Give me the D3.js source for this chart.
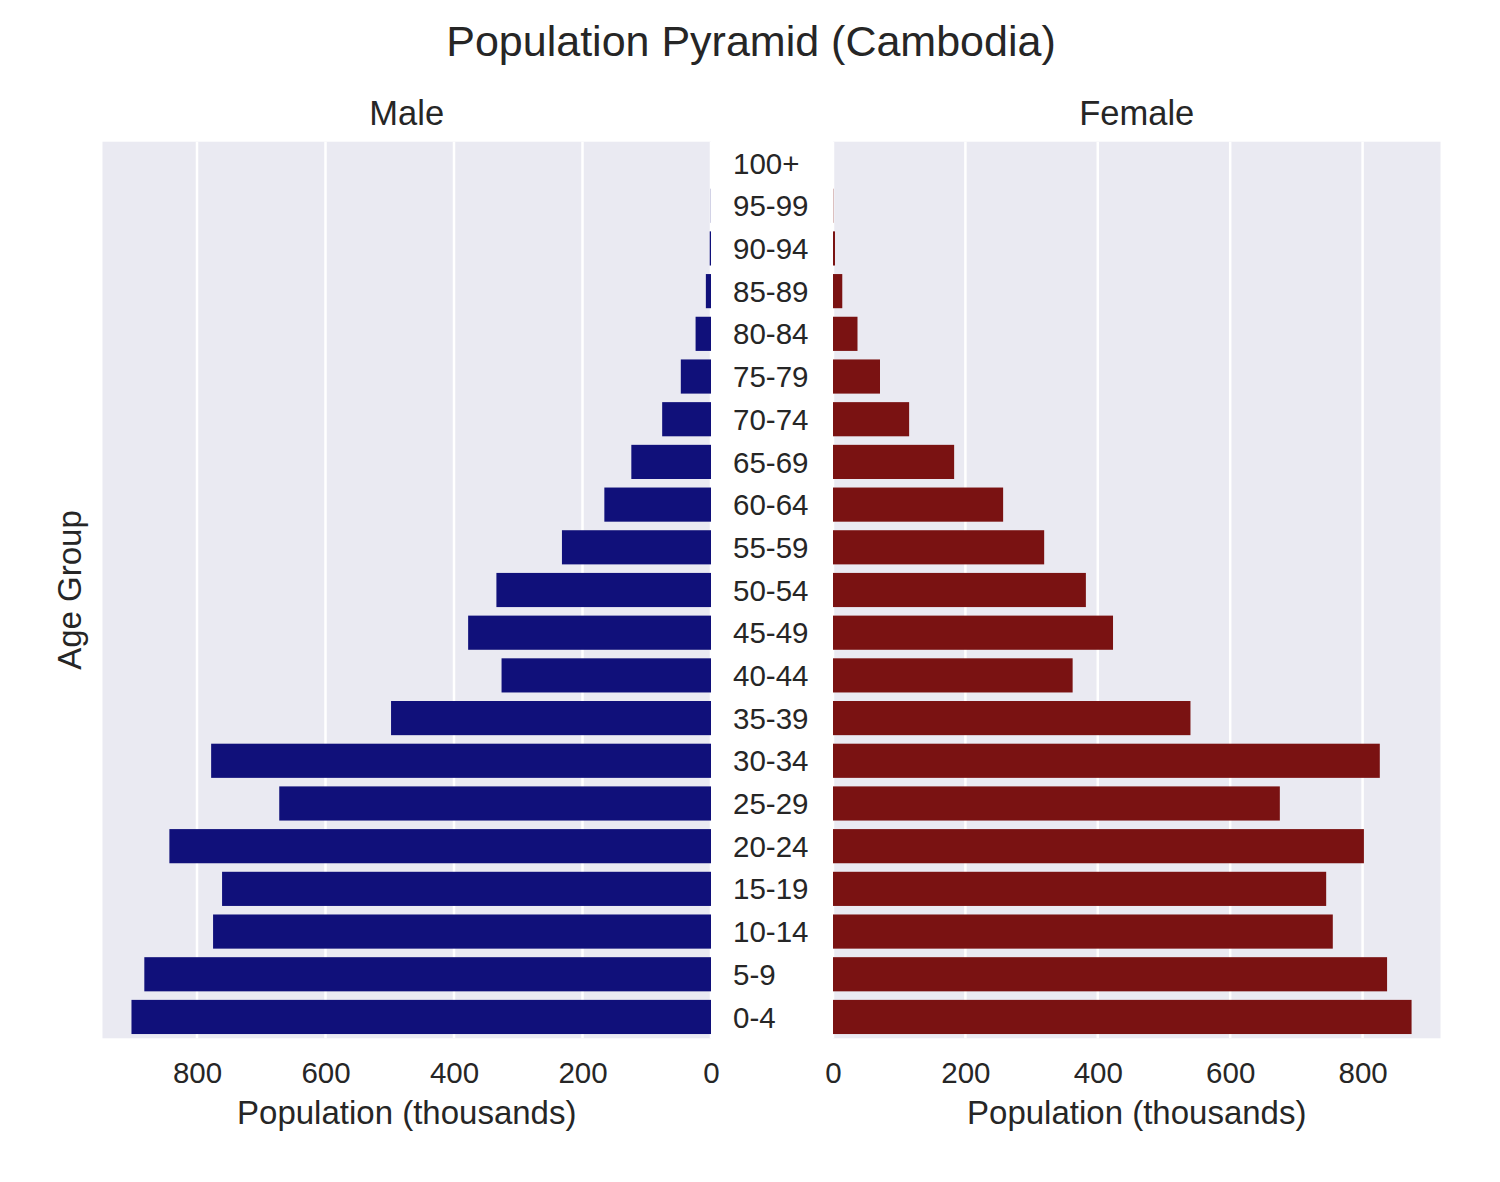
<!DOCTYPE html>
<html>
<head>
<meta charset="utf-8">
<title>Population Pyramid (Cambodia)</title>
<script src="https://cdn.jsdelivr.net/npm/d3@7"></script>
<style>
    body { margin: 0; background: #fff; }
    svg text { font-family: "Liberation Sans", Arial, sans-serif; fill: #262626; }
</style>
</head>
<body>
<svg id="chart" width="1500" height="1182"></svg>
<script>
// # DATA #
var age_groups = [
    "0-4", "5-9", "10-14", "15-19", "20-24", "25-29", "30-34", "35-39",
    "40-44", "45-49", "50-54", "55-59", "60-64", "65-69", "70-74", "75-79",
    "80-84", "85-89", "90-94", "95-99", "100+"
];
// thousands
var male = [
    902, 882, 775, 761, 843, 672, 778, 498,
    326, 378, 334, 232, 166, 124, 76, 47,
    24, 8, 2, 0.3, 0
];
var female = [
    874, 837, 755, 745, 802, 675, 826, 540,
    362, 423, 382, 319, 257, 183, 115, 71,
    37, 14, 3, 0.4, 0
];
var x_ticks = [0, 200, 400, 600, 800];

// # OPTIONS #
var colors = {
    male: "#10107a",
    female: "#7a1212",
    panel: "#eaeaf2",
    grid: "#ffffff"
};
var top_y = 141.7, bottom_y = 1038.3;

var svg = d3.select("#chart");

var y = d3.scaleBand()
    .domain(age_groups.slice().reverse())
    .range([top_y, bottom_y])
    .paddingInner(0.2)
    .paddingOuter(0.1);

var panels = [
    {
        name: "Male", values: male, color: colors.male,
        x: d3.scaleLinear().domain([d3.max(male) * 1.05, 0]).range([102.5, 711])
    },
    {
        name: "Female", values: female, color: colors.female,
        x: d3.scaleLinear().domain([0, d3.max(female) * 1.05]).range([833, 1440.5])
    }
];

panels.forEach(function(p) {
    var g = svg.append("g");
    var r = p.x.range();
    var left = Math.min(r[0], r[1]), right = Math.max(r[0], r[1]);
    var mid = (left + right) / 2;

    g.append("rect")
        .attr("x", left).attr("y", top_y)
        .attr("width", right - left).attr("height", bottom_y - top_y)
        .attr("fill", colors.panel);

    // vertical grid lines
    g.selectAll(".grid").data(x_ticks).enter().append("line")
        .attr("x1", function(d) { return p.x(d); })
        .attr("x2", function(d) { return p.x(d); })
        .attr("y1", top_y).attr("y2", bottom_y)
        .attr("stroke", colors.grid).attr("stroke-width", 2.5);

    g.selectAll(".bar").data(p.values).enter().append("rect")
        .attr("x", function(d) { return Math.min(p.x(0), p.x(d)); })
        .attr("y", function(d, i) { return y(age_groups[i]); })
        .attr("width", function(d) { return Math.abs(p.x(d) - p.x(0)); })
        .attr("height", y.bandwidth())
        .attr("fill", p.color);

    // x axis labels (no tick marks in this style)
    var axis = d3.axisBottom(p.x).tickValues(x_ticks).tickSize(0).tickPadding(0);
    var ax = g.append("g")
        .attr("transform", "translate(0," + 1062 + ")")
        .call(axis);
    ax.select(".domain").remove();
    ax.selectAll("text")
        .attr("dy", "0.71em")
        .style("font-size", "29.5px")
        .style("font-family", "'Liberation Sans', Arial, sans-serif")
        .attr("fill", "#262626");

    g.append("text")
        .attr("x", mid).attr("y", 1124)
        .attr("text-anchor", "middle")
        .style("font-size", "33px")
        .text("Population (thousands)");

    g.append("text")
        .attr("x", mid).attr("y", 125)
        .attr("text-anchor", "middle")
        .style("font-size", "34.5px")
        .text(p.name);
});

// age labels between the two panels
svg.append("g").selectAll("text").data(age_groups).enter().append("text")
    .attr("x", 733)
    .attr("y", function(d) { return y(d) + y.bandwidth() / 2; })
    .attr("dy", "0.36em")
    .style("font-size", "29.5px")
    .text(function(d) { return d; });

svg.append("text")
    .attr("transform", "translate(81," + ((top_y + bottom_y) / 2) + ") rotate(-90)")
    .attr("text-anchor", "middle")
    .style("font-size", "33px")
    .text("Age Group");

svg.append("text")
    .attr("x", 751).attr("y", 56)
    .attr("text-anchor", "middle")
    .style("font-size", "43px")
    .text("Population Pyramid (Cambodia)");
</script>
</body>
</html>
